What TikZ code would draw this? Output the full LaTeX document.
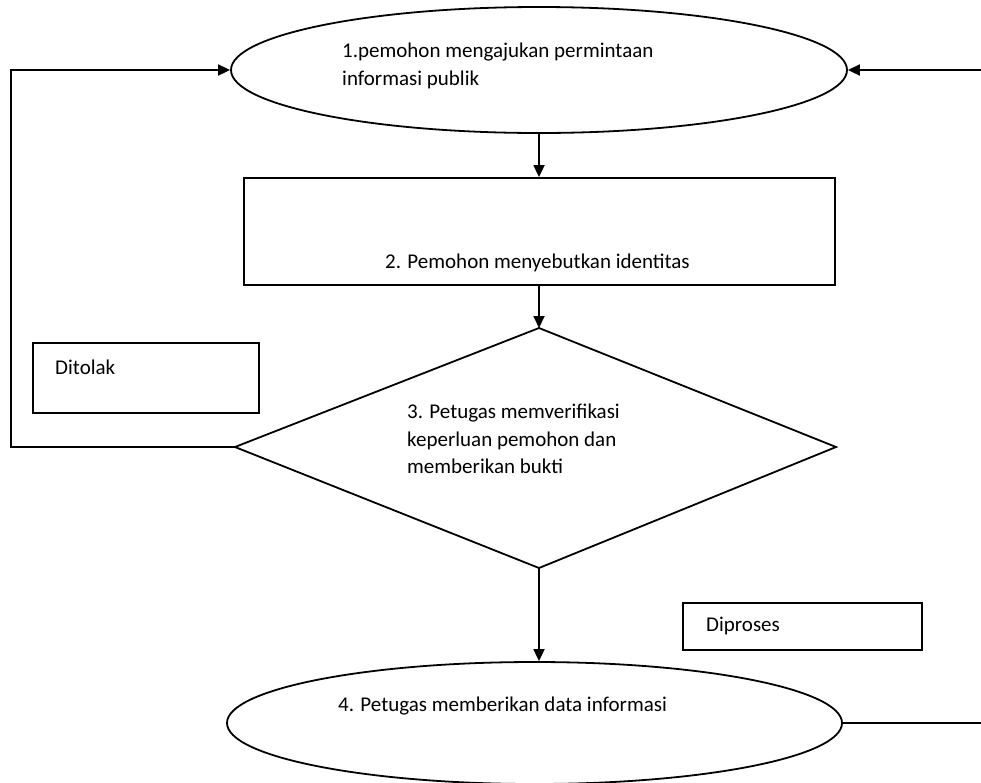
\documentclass[tikz,border=0pt]{standalone}
\usepackage{fontspec}
\setmainfont{Carlito}
\usetikzlibrary{arrows.meta,shapes.geometric}
\begin{document}
\begin{tikzpicture}[x=1pt,y=-1pt,
  shapeline/.style={draw=black,line width=1.8pt},
  conn/.style={draw=black,line width=1.8pt},
  arr/.style={conn,-{Triangle[length=12pt,width=11pt]}},
  txt/.style={anchor=base west,inner sep=0pt,font=\fontsize{21}{28}\selectfont}]
\useasboundingbox (0,0) rectangle (981,782);
% shapes
\node[shapeline,ellipse,minimum width=616pt,minimum height=126pt,inner sep=0pt] (e1) at (539,70) {};
\node[shapeline,rectangle,minimum width=591pt,minimum height=107pt,inner sep=0pt] (r2) at (539.5,231.5) {};
\coordinate (d3n) at (539,328);
\coordinate (d3w) at (235,447);
\coordinate (d3e) at (836,447);
\coordinate (d3s) at (539,568);
\draw[shapeline] (d3n) -- (d3e) -- (d3s) -- (d3w) -- cycle;
\node[shapeline,rectangle,minimum width=226pt,minimum height=70pt,inner sep=0pt] (tolak) at (146,378) {};
\node[shapeline,rectangle,minimum width=239pt,minimum height=47pt,inner sep=0pt] (proses) at (802.5,626.5) {};
\node[shapeline,ellipse,minimum width=615pt,minimum height=122pt,inner sep=0pt] (e4) at (534.5,723) {};
% texts
\node[txt] (t1a) at (342,57) {1.pemohon mengajukan permintaan};
\node[txt] (t1b) at (342,85) {informasi publik};
\node[txt] (t2) at (385,268) {2. Pemohon menyebutkan identitas};
\node[txt] (t3a) at (407,418) {3. Petugas memverifikasi};
\node[txt] (t3b) at (407,446) {keperluan pemohon dan};
\node[txt] (t3c) at (407,473) {memberikan bukti};
\node[txt] (tt) at (55,374) {Ditolak};
\node[txt] (tp) at (706,631) {Diproses};
\node[txt] (t4) at (338,711) {4. Petugas memberikan data informasi};
% connectors
\coordinate (rin) at (981,70);
\coordinate (rout) at (981,723);
\draw[arr] (e1.south) -- (e1.south |- r2.north);
\draw[arr] (e1.south |- r2.south) -- (d3n);
\draw[arr] (d3s) -- (d3s |- e4.north);
\draw[arr] (d3w) -- (11,447) -- (11,70) -- (e1.west);
\draw[arr] (rin) -- (e1.east);
\draw[conn] (e4.east) -- (rout);
\end{tikzpicture}
\end{document}
